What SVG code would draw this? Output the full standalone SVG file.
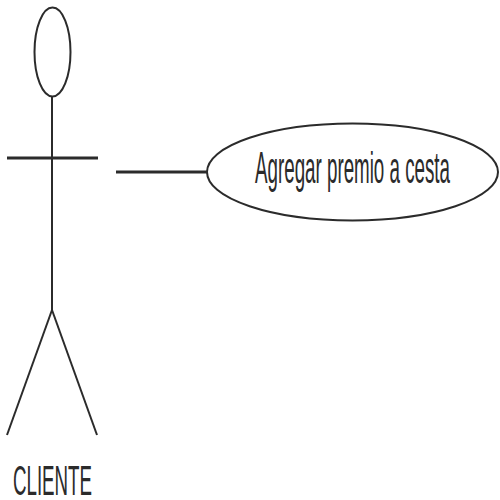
<svg xmlns="http://www.w3.org/2000/svg" width="500" height="500" viewBox="0 0 500 500">
<style>
.s{fill:none;stroke:#2b2b2b;stroke-width:2}
.t{font-family:"Liberation Sans",Arial,sans-serif;fill:#2b2b2b}
</style>
<rect width="500" height="500" fill="#fff"/>
<g id="actor-cliente">
<ellipse class="s" cx="52.5" cy="52" rx="18" ry="44.5"/>
<line class="s" x1="52" y1="96" x2="52" y2="310"/>
<line class="s" x1="7" y1="158" x2="98" y2="158" style="stroke-width:3"/>
<line class="s" x1="52" y1="310" x2="7" y2="435"/>
<line class="s" x1="52" y1="310" x2="97" y2="435"/>
<text class="t" x="13" y="495" font-size="42" textLength="79" lengthAdjust="spacingAndGlyphs">CLIENTE</text>
</g>
<g id="connectors">
<line class="s" x1="116" y1="172" x2="207" y2="172" style="stroke-width:3"/>
</g>
<g id="usecase-agregar">
<ellipse class="s" cx="352.5" cy="172" rx="145.5" ry="48.5"/>
<text class="t" x="255" y="183" font-size="44" textLength="195" lengthAdjust="spacingAndGlyphs">Agregar premio a cesta</text>
</g>
</svg>
